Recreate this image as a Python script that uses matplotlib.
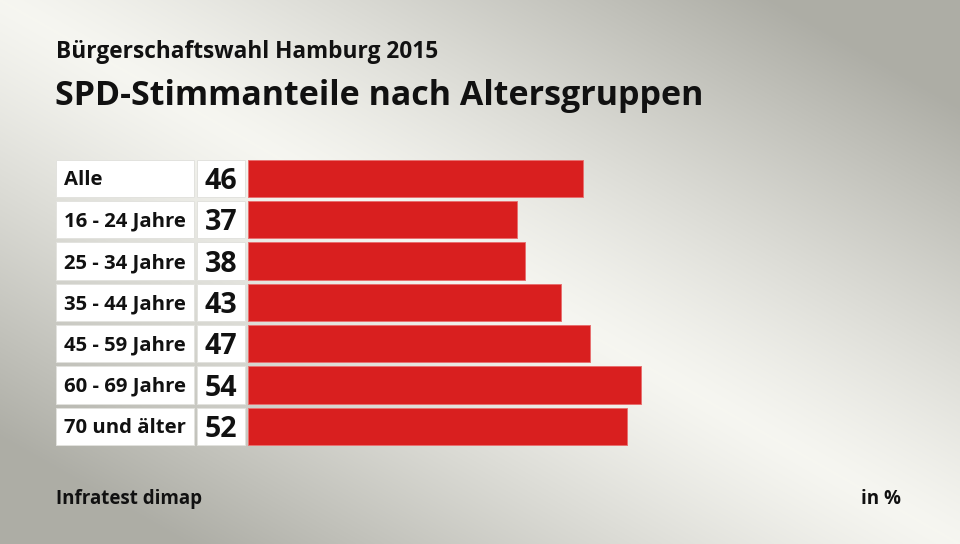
import numpy as np
import matplotlib.pyplot as plt
from matplotlib.patches import Rectangle

# === DATA ===
groups = ["Alle", "16 - 24 Jahre", "25 - 34 Jahre", "35 - 44 Jahre",
          "45 - 59 Jahre", "60 - 69 Jahre", "70 und älter"]
shares = [46, 37, 38, 43, 47, 54, 52]

supertitle = "Bürgerschaftswahl Hamburg 2015"
title = "SPD-Stimmanteile nach Altersgruppen"
source = "Infratest dimap"
unit = "in %"

W, H = 960, 544
BAR_RED = "#d91f1f"
FONT = "Open Sans"
INK = "#111111"

fig = plt.figure(figsize=(W / 100, H / 100), dpi=100)

# === BACKGROUND: light band along the main diagonal, grey off-corners ===
bg = fig.add_axes([0, 0, 1, 1])
yy, xx = np.mgrid[0:H, 0:W]
dist = np.abs(xx * H - yy * W) / np.hypot(W, H)
t = np.clip(dist / 380, 0, 1) ** 1.2
light = np.array([0.965, 0.965, 0.945])
dark = np.array([0.68, 0.68, 0.65])
img = light[None, None, :] + (dark - light)[None, None, :] * t[..., None]
bg.imshow(img, extent=[0, W, H, 0], aspect="auto")
bg.set_xlim(0, W)
bg.set_ylim(H, 0)
bg.axis("off")

bg.text(56, 58, supertitle, fontsize=16.3, fontweight="bold", family=FONT, color=INK)
bg.text(55, 105, title, fontsize=24.5, fontweight="bold", family=FONT, color=INK)
bg.text(56, 504, source, fontsize=13.5, fontweight="bold", family=FONT, color=INK)
bg.text(901, 504, unit, fontsize=13.5, fontweight="bold", family=FONT, color=INK, ha="right")

# === BARS ===
row_top, row_step = 157.8, 41.3
ax_left, ax_width = 248, 437
ax = fig.add_axes([ax_left / W, 1 - (row_top + row_step * len(groups)) / H,
                   ax_width / W, row_step * len(groups) / H])
ax.set_xlim(0, 60)
ax.set_ylim(len(groups) - 0.5, -0.5)
ax.axis("off")

y = np.arange(len(groups))
ax.barh(y, shares, height=0.9, color=BAR_RED, edgecolor="#e87070", linewidth=0.7)

tr = ax.get_yaxis_transform()
lab_x0, lab_x1 = (56 - ax_left) / ax_width, (194 - ax_left) / ax_width
val_x0, val_x1 = (197 - ax_left) / ax_width, (245 - ax_left) / ax_width
for i, (g, v) in enumerate(zip(groups, shares)):
    ax.add_patch(Rectangle((lab_x0, i - 0.45), lab_x1 - lab_x0, 0.9, transform=tr,
                           facecolor="white", edgecolor="#e2e2de", linewidth=0.7, clip_on=False))
    ax.add_patch(Rectangle((val_x0, i - 0.45), val_x1 - val_x0, 0.9, transform=tr,
                           facecolor="white", edgecolor="#e2e2de", linewidth=0.7, clip_on=False))
    ax.text(lab_x0 + 8 / ax_width, i + 0.17, g, transform=tr, va="baseline", ha="left",
            fontsize=14.6, fontweight="bold", family=FONT, color=INK)
    ax.text((val_x0 + val_x1) / 2, i + 0.26, str(v), transform=tr, va="baseline", ha="center",
            fontsize=20.5, fontweight="bold", family=FONT, color=INK)

fig.savefig("out.png", dpi=100)
